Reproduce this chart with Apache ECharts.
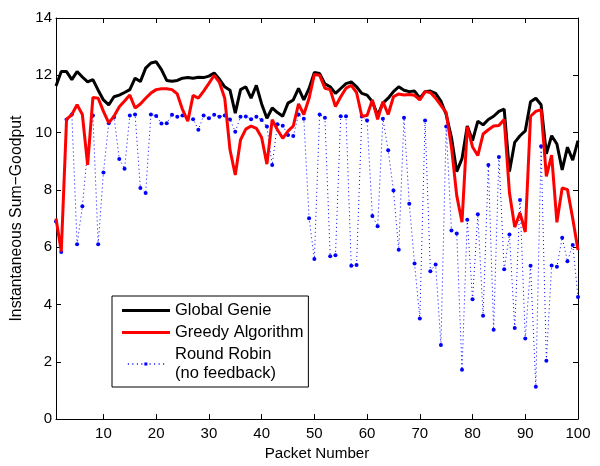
<!DOCTYPE html>
<html>
<head>
<meta charset="utf-8">
<script src="https://cdn.jsdelivr.net/npm/echarts@6/dist/echarts.min.js"></script>
<style>
  html, body { margin: 0; padding: 0; background: #fff; }
  #chart { width: 600px; height: 466px; }
</style>
</head>
<body>
<div id="chart"></div>
<script>
// packet index 1..100
const packets = Array.from({ length: 100 }, (_, i) => i + 1)

const globalGenie = [
  11.63, 12.13, 12.13, 11.85, 12.13, 11.94, 11.77, 11.85, 11.48, 11.14,
  10.97, 11.25, 11.31, 11.4, 11.5, 11.9, 11.78, 12.25, 12.43, 12.47,
  12.2, 11.82, 11.79, 11.82, 11.9, 11.92, 11.9, 11.93, 11.92, 11.97,
  12.08, 11.86, 11.6, 11.48, 10.68, 11.5, 11.6, 11.2, 11.65, 11.0,
  10.5, 10.86, 10.7, 10.57, 11.03, 11.14, 11.54, 11.14, 11.54, 12.1,
  12.06, 11.7, 11.6, 11.37, 11.54, 11.71, 11.77, 11.6, 11.37, 11.31,
  11.08, 10.6, 11.03, 11.2, 11.43, 11.6, 11.48, 11.43, 11.45, 11.2,
  11.43, 11.45, 11.37, 11.1, 10.63, 9.83, 8.64, 9.09, 10.23, 9.72,
  10.4, 10.27, 10.46, 10.57, 10.74, 10.82, 8.64, 9.66, 9.89, 10.06,
  11.08, 11.2, 10.97, 9.26, 9.89, 9.6, 8.7, 9.49, 9.04, 9.72
]

const greedy = [
  7.0, 5.85, 10.46, 10.63, 10.97, 10.63, 8.87, 11.23, 11.2, 10.74,
  10.34, 10.57, 10.9, 11.1, 11.31, 10.86, 11.0, 11.2, 11.38, 11.5,
  11.53, 11.53, 11.5, 11.35, 10.8, 10.4, 11.3, 11.2, 11.45, 11.72,
  12.0, 11.75, 11.2, 9.4, 8.52, 9.75, 10.12, 10.23, 10.15, 9.83,
  8.9, 10.45, 10.1, 9.8, 10.05, 10.23, 11.0, 10.63, 11.2, 12.03,
  12.0, 11.55, 11.5, 10.91, 11.25, 11.55, 11.65, 11.4, 10.57, 10.6,
  11.14, 10.46, 11.08, 10.63, 11.25, 11.35, 11.31, 11.33, 11.3, 11.14,
  11.43, 11.4, 11.2, 10.95, 10.7, 9.5, 7.8, 6.87, 10.2, 9.5,
  9.2, 9.95, 10.1, 10.23, 10.25, 10.46, 7.9, 6.7, 7.2, 6.53,
  10.57, 10.74, 10.8, 8.47, 9.21, 6.87, 8.07, 8.01, 7.0, 5.9
]

const roundRobin = [
  6.9, 5.83, 10.46, 10.63, 6.1, 7.43, 9.38, 10.6, 6.1, 8.61,
  10.33, 10.54, 9.08, 8.74, 10.6, 10.63, 8.07, 7.89, 10.63, 10.58,
  10.32, 10.33, 10.62, 10.55, 10.6, 10.52, 10.47, 10.1, 10.6, 10.5,
  10.62, 10.55, 10.6, 10.46, 10.03, 10.55, 10.56, 10.47, 10.55, 10.44,
  10.21, 8.87, 10.29, 10.24, 9.92, 9.88, 10.63, 10.48, 7.01, 5.59,
  10.63, 10.52, 5.68, 5.72, 10.57, 10.57, 5.35, 5.38, 10.56, 10.42,
  7.09, 6.73, 10.48, 9.38, 7.98, 5.91, 10.52, 7.52, 5.43, 3.51,
  10.42, 5.16, 5.4, 2.59, 10.21, 6.58, 6.48, 1.72, 6.96, 4.18,
  7.15, 3.61, 8.87, 3.12, 9.15, 5.23, 6.44, 3.18, 7.65, 2.81,
  5.35, 1.13, 9.52, 2.04, 5.36, 5.32, 6.33, 5.51, 6.08, 4.26
]

const FONT = 'Liberation Sans, Arial, Helvetica, sans-serif'
const every10 = (idx) => (idx + 1) % 10 === 0

const chart = echarts.init(document.getElementById('chart'), null, { renderer: 'canvas' })

const frameX = {
  type: 'category',
  data: packets,
  boundaryGap: false,
  axisLine: { show: true, onZero: false, lineStyle: { color: '#000', width: 1 } },
  axisTick: { show: true, inside: true, length: 5, interval: every10, lineStyle: { color: '#000' } },
  splitLine: { show: false },
}
const frameY = {
  type: 'value',
  min: 0,
  max: 14,
  interval: 2,
  axisLine: { show: true, lineStyle: { color: '#000', width: 1 } },
  axisTick: { show: true, inside: true, length: 5, lineStyle: { color: '#000' } },
  splitLine: { show: false },
}

chart.setOption({
  animation: false,
  backgroundColor: '#fff',
  grid: { left: 56, right: 22, top: 18, bottom: 38 },
  xAxis: [
    {
      ...frameX,
      position: 'bottom',
      name: 'Packet Number',
      nameLocation: 'middle',
      nameGap: 23,
      nameTextStyle: { color: '#000', fontSize: 15.2, fontFamily: FONT },
      axisLabel: { interval: every10, color: '#000', fontSize: 15, fontFamily: FONT, margin: 7 },
    },
    { ...frameX, position: 'top', axisLabel: { show: false } },
  ],
  yAxis: [
    {
      ...frameY,
      position: 'left',
      name: 'Instantaneous Sum\u2212Goodput',
      nameLocation: 'middle',
      nameGap: 29,
      nameTextStyle: { color: '#000', fontSize: 15.8, fontFamily: FONT },
      axisLabel: { color: '#000', fontSize: 15, fontFamily: FONT, margin: 4 },
    },
    { ...frameY, position: 'right', axisLabel: { show: false } },
  ],
  legend: {
    orient: 'vertical',
    left: 112,
    top: 296,
    padding: [5, 5, 4, 10],
    itemWidth: 48,
    itemHeight: 3,
    itemGap: 3,
    borderColor: '#000',
    borderWidth: 1,
    backgroundColor: '#fff',
    textStyle: { color: '#000', fontSize: 16.5, fontFamily: FONT, lineHeight: 19 },
    data: [
      { name: 'Global Genie', icon: 'rect' },
      { name: 'Greedy Algorithm', icon: 'rect' },
      {
        name: 'Round Robin\n(no feedback)',
        icon: 'path://M0,1h1.4v2h-1.4z M6,1h1.4v2h-1.4z M12,1h1.4v2h-1.4z M18,1h1.4v2h-1.4z M22,0h4v4h-4z M29,1h1.4v2h-1.4z M35,1h1.4v2h-1.4z M41,1h1.4v2h-1.4z M47,1h1.4v2h-1.4z',
      },
    ],
  },
  series: [
    {
      name: 'Round Robin\n(no feedback)',
      type: 'line',
      data: roundRobin,
      symbol: 'circle',
      symbolSize: 4,
      showAllSymbol: true,
      lineStyle: { color: '#0000ff', width: 1, type: [1, 3] },
      itemStyle: { color: '#0000ff' },
      z: 1,
    },
    {
      name: 'Global Genie',
      type: 'line',
      data: globalGenie,
      symbol: 'none',
      lineStyle: { color: '#000', width: 3 },
      itemStyle: { color: '#000' },
      z: 2,
    },
    {
      name: 'Greedy Algorithm',
      type: 'line',
      data: greedy,
      symbol: 'none',
      lineStyle: { color: '#ff0000', width: 3 },
      itemStyle: { color: '#ff0000' },
      z: 3,
    },
  ],
})
</script>
</body>
</html>
